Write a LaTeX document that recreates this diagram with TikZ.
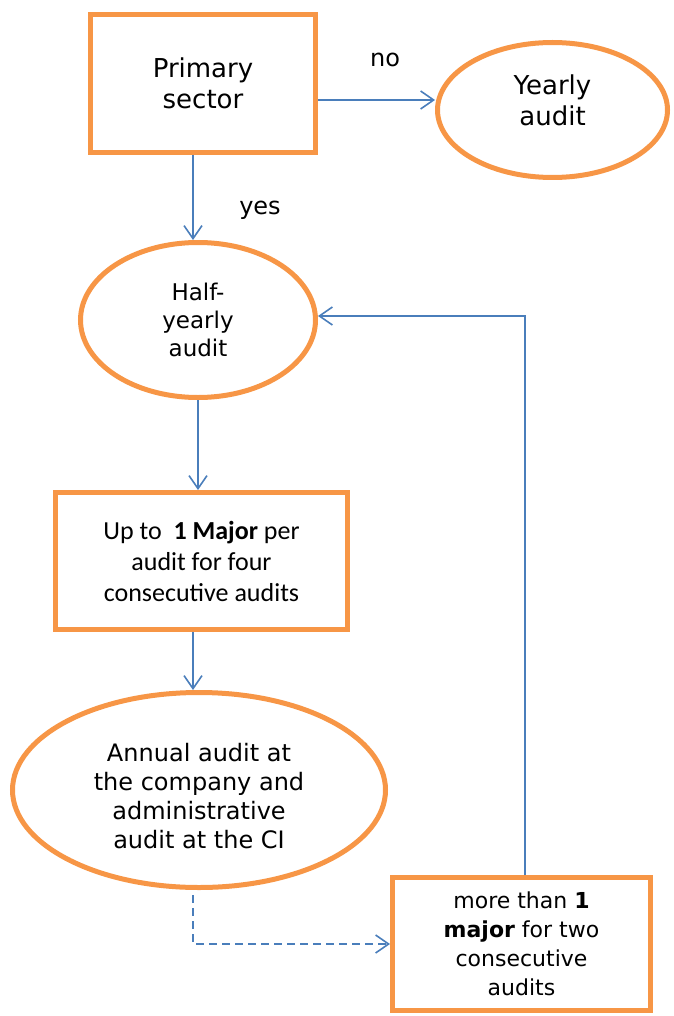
\documentclass[tikz,border=0pt]{standalone}
\usepackage{fontspec}
\setmainfont{DejaVu Sans}
\newfontfamily\calibri{Carlito}
\usepackage{tikz}
\usetikzlibrary{shapes.geometric, arrows.meta, positioning}
\definecolor{boxorange}{RGB}{247,150,70}
\definecolor{lineblue}{RGB}{74,126,187}
\tikzstyle{box} = [rectangle, draw=boxorange, line width=5pt, outer sep=2.5pt, inner sep=0pt, align=center, font=\fontsize{24}{30}\selectfont]
\tikzstyle{oval} = [ellipse, draw=boxorange, line width=5pt, outer sep=2.5pt, inner sep=0pt, align=center, font=\fontsize{24}{29}\selectfont]
\tikzstyle{arrow} = [draw=lineblue, line width=1.6pt, -{Straight Barb[length=13pt, width=18pt]}]
\tikzstyle{dasharrow} = [arrow, dash pattern=on 8pt off 5pt]
\tikzstyle{lbl} = [font=\fontsize{24}{29}\selectfont, inner sep=0pt]

\begin{document}
\begin{tikzpicture}[x=1pt, y=-1pt]
    \useasboundingbox (0,0) rectangle (673,1016);
    \node (prim) [box, minimum width=225pt, minimum height=138pt, font=\fontsize{26}{31}\selectfont] at (203,83.5) {Primary\\sector};
    \node (yearly) [oval, minimum width=230pt, minimum height=135pt, font=\fontsize{26}{31}\selectfont, text depth=20pt, right=117pt of prim, yshift=-26.5pt] {Yearly\\audit};
    \node (half) [oval, minimum width=235pt, minimum height=155pt, font=\fontsize{23}{28}\selectfont, below=85pt of prim, xshift=-5pt] {Half-\\yearly\\audit};
    \node (upto) [box, minimum width=292pt, minimum height=137pt, font=\calibri\fontsize{26}{31}\selectfont, below=90pt of half, xshift=3.5pt] {Up to\ \ \textbf{1 Major} per\\audit for four\\consecutive audits};
    \node (annual) [oval, minimum width=373pt, minimum height=195pt, below=58pt of upto, xshift=-2.5pt] {\rule{0pt}{30pt}Annual audit at\\the company and\\administrative\\audit at the CI};
    \node (more) [box, minimum width=258pt, minimum height=133pt, font=\fontsize{22}{29}\selectfont, right=2pt of annual, yshift=-154pt] {more than \textbf{1}\\\textbf{major} for two\\consecutive\\audits};

    \draw [arrow] ([yshift=-16.5pt]prim.east) -- node (nolbl) [lbl, xshift=8.5pt, yshift=40pt] {no} ([yshift=-16.5pt]prim.east -| yearly.west);
    \draw [arrow] ([xshift=-10pt]prim.south) -- node (yeslbl) [lbl, xshift=67pt, yshift=-12.5pt] {yes} ([xshift=-10pt]prim.south |- half.north);
    \draw [arrow] (half.south) -- (half.south |- upto.north);
    \draw [arrow] ([xshift=-8.5pt]upto.south) -- ([xshift=-8.5pt]upto.south |- annual.north);
    \draw [dasharrow] ([xshift=-6pt, yshift=-5pt]annual.south) |- (more.west);
    \draw [arrow] ([xshift=3.5pt]more.north) |- ([yshift=4pt]half.east);
\end{tikzpicture}
\end{document}
